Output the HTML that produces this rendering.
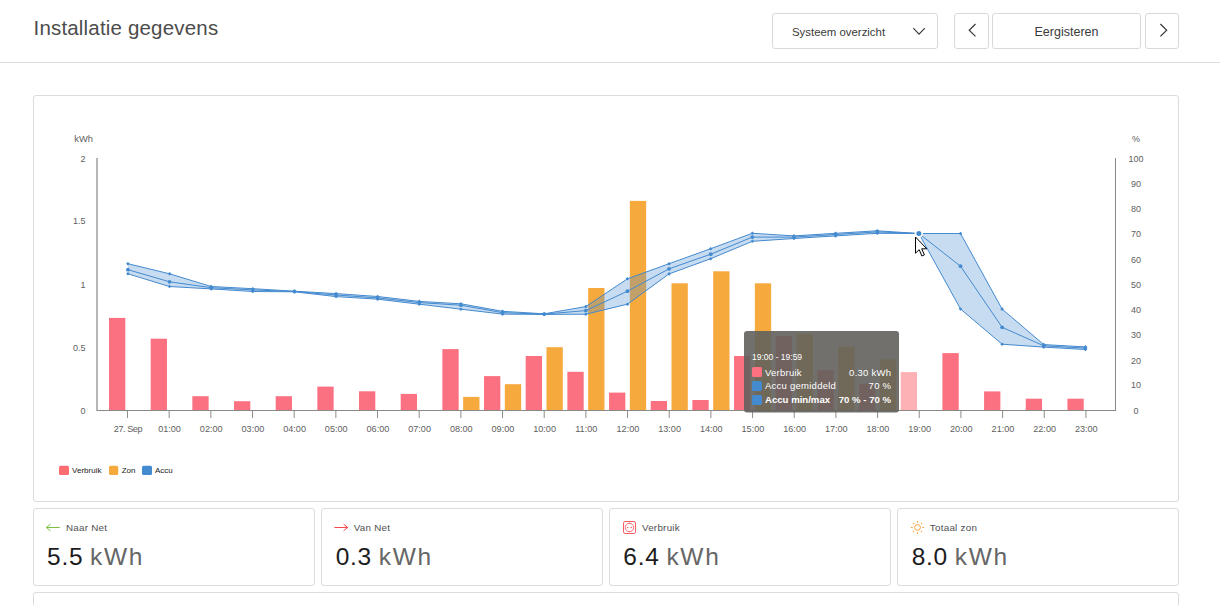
<!DOCTYPE html>
<html lang="nl">
<head>
<meta charset="utf-8">
<title>Installatie gegevens</title>
<style>
html,body{margin:0;padding:0;}
body{width:1220px;height:605px;overflow:hidden;background:#fff;font-family:"Liberation Sans",sans-serif;color:#333;position:relative;}
.hdr{position:absolute;left:0;top:0;width:1220px;height:62px;border-bottom:1px solid #dedcda;background:#fff;}
.title{position:absolute;left:33.5px;top:16px;font-size:20.5px;line-height:24px;color:#4c4c4c;letter-spacing:0.18px;white-space:nowrap;}
.btn{position:absolute;top:13px;height:36px;box-sizing:border-box;border:1px solid #d9d9d6;border-radius:3px;background:#fff;}
.btn span{position:absolute;left:0;right:0;top:0;line-height:35px;text-align:center;color:#333;white-space:nowrap;}
.card{position:absolute;box-sizing:border-box;border:1px solid #dedcda;border-radius:3px;background:#fff;}
.chart{position:absolute;left:0;top:0;}
</style>
</head>
<body>
<div class="hdr">
  <div class="title">Installatie gegevens</div>
  <div class="btn" style="left:772px;width:166px;"><span style="font-size:11.4px;text-align:left;left:19px;top:0.5px;color:#3a3a3a;">Systeem overzicht</span>
    <svg style="position:absolute;left:-1px;top:-1px" width="166" height="36" viewBox="772 13 166 36"><path d="M913.3,28.2 L919.05,34.1 L924.8,28.2" fill="none" stroke="#3a3a3a" stroke-width="1.2"/></svg></div>
  <div class="btn" style="left:954px;width:35px;"><svg style="position:absolute;left:-1px;top:-1px" width="35" height="36" viewBox="954 13 35 36"><path d="M975.5,24 L969.2,30.2 L975.5,36.4" fill="none" stroke="#3a3a3a" stroke-width="1.2"/></svg></div>
  <div class="btn" style="left:992px;width:149px;"><span style="font-size:12.5px;top:1px;color:#3a3a3a;">Eergisteren</span></div>
  <div class="btn" style="left:1145px;width:34px;"><svg style="position:absolute;left:-1px;top:-1px" width="34" height="36" viewBox="1145 13 34 36"><path d="M1160.4,24 L1166.7,30.2 L1160.4,36.4" fill="none" stroke="#3a3a3a" stroke-width="1.2"/></svg></div>
</div>
<div class="card" style="left:33px;top:95px;width:1146px;height:407px;"></div>
<div class="card" style="left:33px;top:508px;width:282px;height:78px;"></div>
<div class="card" style="left:321px;top:508px;width:282px;height:78px;"></div>
<div class="card" style="left:609px;top:508px;width:282px;height:78px;"></div>
<div class="card" style="left:897px;top:508px;width:282px;height:78px;"></div>
<div class="card" style="left:33px;top:592px;width:1146px;height:40px;"></div>
<svg class="chart" width="1220" height="605" viewBox="0 0 1220 605">
<g shape-rendering="auto">
<rect x="109.00" y="317.90" width="16.3" height="92.10" fill="#fb7181"/>
<rect x="150.67" y="338.70" width="16.3" height="71.30" fill="#fb7181"/>
<rect x="192.34" y="396.20" width="16.3" height="13.80" fill="#fb7181"/>
<rect x="234.01" y="401.20" width="16.3" height="8.80" fill="#fb7181"/>
<rect x="275.68" y="396.20" width="16.3" height="13.80" fill="#fb7181"/>
<rect x="317.35" y="386.60" width="16.3" height="23.40" fill="#fb7181"/>
<rect x="359.02" y="391.30" width="16.3" height="18.70" fill="#fb7181"/>
<rect x="400.69" y="393.90" width="16.3" height="16.10" fill="#fb7181"/>
<rect x="442.36" y="349.10" width="16.3" height="60.90" fill="#fb7181"/>
<rect x="484.03" y="376.10" width="16.3" height="33.90" fill="#fb7181"/>
<rect x="525.70" y="356.00" width="16.3" height="54.00" fill="#fb7181"/>
<rect x="567.37" y="371.80" width="16.3" height="38.20" fill="#fb7181"/>
<rect x="609.04" y="392.60" width="16.3" height="17.40" fill="#fb7181"/>
<rect x="650.71" y="401.00" width="16.3" height="9.00" fill="#fb7181"/>
<rect x="692.38" y="400.00" width="16.3" height="10.00" fill="#fb7181"/>
<rect x="734.05" y="356.00" width="16.3" height="54.00" fill="#fb7181"/>
<rect x="775.72" y="336.20" width="16.3" height="73.80" fill="#fb7181"/>
<rect x="817.39" y="370.10" width="16.3" height="39.90" fill="#fb7181"/>
<rect x="859.06" y="383.80" width="16.3" height="26.20" fill="#fb7181"/>
<rect x="900.73" y="372.10" width="16.3" height="37.90" fill="#fdb1b5"/>
<rect x="942.40" y="353.10" width="16.3" height="56.90" fill="#fb7181"/>
<rect x="984.07" y="391.40" width="16.3" height="18.60" fill="#fb7181"/>
<rect x="1025.74" y="398.70" width="16.3" height="11.30" fill="#fb7181"/>
<rect x="1067.41" y="398.70" width="16.3" height="11.30" fill="#fb7181"/>
<rect x="463.16" y="396.90" width="16.3" height="13.10" fill="#f6a93d"/>
<rect x="504.83" y="384.20" width="16.3" height="25.80" fill="#f6a93d"/>
<rect x="546.50" y="347.20" width="16.3" height="62.80" fill="#f6a93d"/>
<rect x="588.17" y="288.00" width="16.3" height="122.00" fill="#f6a93d"/>
<rect x="629.84" y="200.90" width="16.3" height="209.10" fill="#f6a93d"/>
<rect x="671.51" y="283.30" width="16.3" height="126.70" fill="#f6a93d"/>
<rect x="713.18" y="271.30" width="16.3" height="138.70" fill="#f6a93d"/>
<rect x="754.85" y="283.30" width="16.3" height="126.70" fill="#f6a93d"/>
<rect x="796.52" y="334.00" width="16.3" height="76.00" fill="#f6a93d"/>
<rect x="838.19" y="346.70" width="16.3" height="63.30" fill="#f6a93d"/>
<rect x="879.86" y="359.40" width="16.3" height="50.60" fill="#f6a93d"/>
</g>
<rect x="96" y="158.0" width="2" height="253.0" fill="#b8b6b4"/>
<rect x="97" y="410" width="1019" height="1" fill="#8b8986"/>
<rect x="1115" y="158.0" width="1" height="253.0" fill="#8b8986"/>
<rect x="127.00" y="411" width="1" height="7" fill="#8f8d8a"/>
<rect x="168.67" y="411" width="1" height="7" fill="#8f8d8a"/>
<rect x="210.34" y="411" width="1" height="7" fill="#8f8d8a"/>
<rect x="252.01" y="411" width="1" height="7" fill="#8f8d8a"/>
<rect x="293.68" y="411" width="1" height="7" fill="#8f8d8a"/>
<rect x="335.35" y="411" width="1" height="7" fill="#8f8d8a"/>
<rect x="377.02" y="411" width="1" height="7" fill="#8f8d8a"/>
<rect x="418.69" y="411" width="1" height="7" fill="#8f8d8a"/>
<rect x="460.36" y="411" width="1" height="7" fill="#8f8d8a"/>
<rect x="502.03" y="411" width="1" height="7" fill="#8f8d8a"/>
<rect x="543.70" y="411" width="1" height="7" fill="#8f8d8a"/>
<rect x="585.37" y="411" width="1" height="7" fill="#8f8d8a"/>
<rect x="627.04" y="411" width="1" height="7" fill="#8f8d8a"/>
<rect x="668.71" y="411" width="1" height="7" fill="#8f8d8a"/>
<rect x="710.38" y="411" width="1" height="7" fill="#8f8d8a"/>
<rect x="752.05" y="411" width="1" height="7" fill="#8f8d8a"/>
<rect x="793.72" y="411" width="1" height="7" fill="#8f8d8a"/>
<rect x="835.39" y="411" width="1" height="7" fill="#8f8d8a"/>
<rect x="877.06" y="411" width="1" height="7" fill="#8f8d8a"/>
<rect x="918.73" y="411" width="1" height="7" fill="#8f8d8a"/>
<rect x="960.40" y="411" width="1" height="7" fill="#8f8d8a"/>
<rect x="1002.07" y="411" width="1" height="7" fill="#8f8d8a"/>
<rect x="1043.74" y="411" width="1" height="7" fill="#8f8d8a"/>
<rect x="1085.41" y="411" width="1" height="7" fill="#8f8d8a"/>
<polygon points="127.90,263.70 169.53,273.80 211.16,286.50 252.79,288.70 294.42,291.20 336.05,293.60 377.68,296.50 419.31,301.40 460.94,303.80 502.57,311.30 544.20,313.80 585.83,306.60 627.46,278.80 669.09,263.70 710.72,248.70 752.35,233.30 793.98,235.90 835.61,233.30 877.24,230.80 918.87,233.50 960.50,233.50 1002.13,309.10 1043.76,344.60 1085.39,346.90 1085.39,349.50 1043.76,347.10 1002.13,344.20 960.50,309.00 918.87,233.50 877.24,233.30 835.61,235.90 793.98,238.50 752.35,241.30 710.72,258.70 669.09,273.90 627.46,304.20 585.83,314.20 544.20,314.40 502.57,314.10 460.94,309.20 419.31,304.20 377.68,299.20 336.05,296.60 294.42,291.80 252.79,291.50 211.16,288.90 169.53,286.50 127.90,273.80" fill="#448acf" fill-opacity="0.3"/>
<polyline points="127.90,263.70 169.53,273.80 211.16,286.50 252.79,288.70 294.42,291.20 336.05,293.60 377.68,296.50 419.31,301.40 460.94,303.80 502.57,311.30 544.20,313.80 585.83,306.60 627.46,278.80 669.09,263.70 710.72,248.70 752.35,233.30 793.98,235.90 835.61,233.30 877.24,230.80 918.87,233.50 960.50,233.50 1002.13,309.10 1043.76,344.60 1085.39,346.90" fill="none" stroke="#448acf" stroke-width="1" stroke-linejoin="round"/>
<polyline points="127.90,273.80 169.53,286.50 211.16,288.90 252.79,291.50 294.42,291.80 336.05,296.60 377.68,299.20 419.31,304.20 460.94,309.20 502.57,314.10 544.20,314.40 585.83,314.20 627.46,304.20 669.09,273.90 710.72,258.70 752.35,241.30 793.98,238.50 835.61,235.90 877.24,233.30 918.87,233.50 960.50,309.00 1002.13,344.20 1043.76,347.10 1085.39,349.50" fill="none" stroke="#448acf" stroke-width="1" stroke-linejoin="round"/>
<polyline points="127.90,269.70 169.53,281.80 211.16,287.70 252.79,289.90 294.42,291.50 336.05,295.00 377.68,297.90 419.31,302.60 460.94,305.20 502.57,312.70 544.20,314.10 585.83,310.60 627.46,291.20 669.09,268.80 710.72,254.20 752.35,237.10 793.98,237.10 835.61,234.50 877.24,231.90 918.87,233.50 960.50,266.20 1002.13,327.30 1043.76,345.80 1085.39,348.10" fill="none" stroke="#448acf" stroke-width="1" stroke-linejoin="round"/>
<path d="M127.90,261.90L129.70,263.70L127.90,265.50L126.10,263.70Z" fill="#448acf"/>
<path d="M127.90,272.00L129.70,273.80L127.90,275.60L126.10,273.80Z" fill="#448acf"/>
<circle cx="127.90" cy="269.70" r="1.9" fill="#448acf"/>
<path d="M169.53,272.00L171.33,273.80L169.53,275.60L167.73,273.80Z" fill="#448acf"/>
<path d="M169.53,284.70L171.33,286.50L169.53,288.30L167.73,286.50Z" fill="#448acf"/>
<circle cx="169.53" cy="281.80" r="1.9" fill="#448acf"/>
<path d="M211.16,284.70L212.96,286.50L211.16,288.30L209.36,286.50Z" fill="#448acf"/>
<path d="M211.16,287.10L212.96,288.90L211.16,290.70L209.36,288.90Z" fill="#448acf"/>
<circle cx="211.16" cy="287.70" r="1.9" fill="#448acf"/>
<path d="M252.79,286.90L254.59,288.70L252.79,290.50L250.99,288.70Z" fill="#448acf"/>
<path d="M252.79,289.70L254.59,291.50L252.79,293.30L250.99,291.50Z" fill="#448acf"/>
<circle cx="252.79" cy="289.90" r="1.9" fill="#448acf"/>
<path d="M294.42,289.40L296.22,291.20L294.42,293.00L292.62,291.20Z" fill="#448acf"/>
<path d="M294.42,290.00L296.22,291.80L294.42,293.60L292.62,291.80Z" fill="#448acf"/>
<circle cx="294.42" cy="291.50" r="1.9" fill="#448acf"/>
<path d="M336.05,291.80L337.85,293.60L336.05,295.40L334.25,293.60Z" fill="#448acf"/>
<path d="M336.05,294.80L337.85,296.60L336.05,298.40L334.25,296.60Z" fill="#448acf"/>
<circle cx="336.05" cy="295.00" r="1.9" fill="#448acf"/>
<path d="M377.68,294.70L379.48,296.50L377.68,298.30L375.88,296.50Z" fill="#448acf"/>
<path d="M377.68,297.40L379.48,299.20L377.68,301.00L375.88,299.20Z" fill="#448acf"/>
<circle cx="377.68" cy="297.90" r="1.9" fill="#448acf"/>
<path d="M419.31,299.60L421.11,301.40L419.31,303.20L417.51,301.40Z" fill="#448acf"/>
<path d="M419.31,302.40L421.11,304.20L419.31,306.00L417.51,304.20Z" fill="#448acf"/>
<circle cx="419.31" cy="302.60" r="1.9" fill="#448acf"/>
<path d="M460.94,302.00L462.74,303.80L460.94,305.60L459.14,303.80Z" fill="#448acf"/>
<path d="M460.94,307.40L462.74,309.20L460.94,311.00L459.14,309.20Z" fill="#448acf"/>
<circle cx="460.94" cy="305.20" r="1.9" fill="#448acf"/>
<path d="M502.57,309.50L504.37,311.30L502.57,313.10L500.77,311.30Z" fill="#448acf"/>
<path d="M502.57,312.30L504.37,314.10L502.57,315.90L500.77,314.10Z" fill="#448acf"/>
<circle cx="502.57" cy="312.70" r="1.9" fill="#448acf"/>
<path d="M544.20,312.00L546.00,313.80L544.20,315.60L542.40,313.80Z" fill="#448acf"/>
<path d="M544.20,312.60L546.00,314.40L544.20,316.20L542.40,314.40Z" fill="#448acf"/>
<circle cx="544.20" cy="314.10" r="1.9" fill="#448acf"/>
<path d="M585.83,304.80L587.63,306.60L585.83,308.40L584.03,306.60Z" fill="#448acf"/>
<path d="M585.83,312.40L587.63,314.20L585.83,316.00L584.03,314.20Z" fill="#448acf"/>
<circle cx="585.83" cy="310.60" r="1.9" fill="#448acf"/>
<path d="M627.46,277.00L629.26,278.80L627.46,280.60L625.66,278.80Z" fill="#448acf"/>
<path d="M627.46,302.40L629.26,304.20L627.46,306.00L625.66,304.20Z" fill="#448acf"/>
<circle cx="627.46" cy="291.20" r="1.9" fill="#448acf"/>
<path d="M669.09,261.90L670.89,263.70L669.09,265.50L667.29,263.70Z" fill="#448acf"/>
<path d="M669.09,272.10L670.89,273.90L669.09,275.70L667.29,273.90Z" fill="#448acf"/>
<circle cx="669.09" cy="268.80" r="1.9" fill="#448acf"/>
<path d="M710.72,246.90L712.52,248.70L710.72,250.50L708.92,248.70Z" fill="#448acf"/>
<path d="M710.72,256.90L712.52,258.70L710.72,260.50L708.92,258.70Z" fill="#448acf"/>
<circle cx="710.72" cy="254.20" r="1.9" fill="#448acf"/>
<path d="M752.35,231.50L754.15,233.30L752.35,235.10L750.55,233.30Z" fill="#448acf"/>
<path d="M752.35,239.50L754.15,241.30L752.35,243.10L750.55,241.30Z" fill="#448acf"/>
<circle cx="752.35" cy="237.10" r="1.9" fill="#448acf"/>
<path d="M793.98,234.10L795.78,235.90L793.98,237.70L792.18,235.90Z" fill="#448acf"/>
<path d="M793.98,236.70L795.78,238.50L793.98,240.30L792.18,238.50Z" fill="#448acf"/>
<circle cx="793.98" cy="237.10" r="1.9" fill="#448acf"/>
<path d="M835.61,231.50L837.41,233.30L835.61,235.10L833.81,233.30Z" fill="#448acf"/>
<path d="M835.61,234.10L837.41,235.90L835.61,237.70L833.81,235.90Z" fill="#448acf"/>
<circle cx="835.61" cy="234.50" r="1.9" fill="#448acf"/>
<path d="M877.24,229.00L879.04,230.80L877.24,232.60L875.44,230.80Z" fill="#448acf"/>
<path d="M877.24,231.50L879.04,233.30L877.24,235.10L875.44,233.30Z" fill="#448acf"/>
<circle cx="877.24" cy="231.90" r="1.9" fill="#448acf"/>
<path d="M918.87,231.70L920.67,233.50L918.87,235.30L917.07,233.50Z" fill="#448acf"/>
<path d="M918.87,231.70L920.67,233.50L918.87,235.30L917.07,233.50Z" fill="#448acf"/>
<circle cx="918.87" cy="233.50" r="4.2" fill="#fff" fill-opacity="0.9"/>
<circle cx="918.87" cy="233.50" r="2.5" fill="#448acf"/>
<path d="M960.50,231.70L962.30,233.50L960.50,235.30L958.70,233.50Z" fill="#448acf"/>
<path d="M960.50,307.20L962.30,309.00L960.50,310.80L958.70,309.00Z" fill="#448acf"/>
<circle cx="960.50" cy="266.20" r="1.9" fill="#448acf"/>
<path d="M1002.13,307.30L1003.93,309.10L1002.13,310.90L1000.33,309.10Z" fill="#448acf"/>
<path d="M1002.13,342.40L1003.93,344.20L1002.13,346.00L1000.33,344.20Z" fill="#448acf"/>
<circle cx="1002.13" cy="327.30" r="1.9" fill="#448acf"/>
<path d="M1043.76,342.80L1045.56,344.60L1043.76,346.40L1041.96,344.60Z" fill="#448acf"/>
<path d="M1043.76,345.30L1045.56,347.10L1043.76,348.90L1041.96,347.10Z" fill="#448acf"/>
<circle cx="1043.76" cy="345.80" r="1.9" fill="#448acf"/>
<path d="M1085.39,345.10L1087.19,346.90L1085.39,348.70L1083.59,346.90Z" fill="#448acf"/>
<path d="M1085.39,347.70L1087.19,349.50L1085.39,351.30L1083.59,349.50Z" fill="#448acf"/>
<circle cx="1085.39" cy="348.10" r="1.9" fill="#448acf"/>
<g font-family="Liberation Sans, sans-serif" font-size="9" fill="#606060">
<text x="74.3" y="142" font-size="9.4">kWh</text>
<text x="1136" y="142" text-anchor="middle">%</text>
<text x="85.5" y="162.00" text-anchor="end">2</text>
<text x="85.5" y="224.00" text-anchor="end">1.5</text>
<text x="85.5" y="288.00" text-anchor="end">1</text>
<text x="85.5" y="351.00" text-anchor="end">0.5</text>
<text x="85.5" y="414.00" text-anchor="end">0</text>
<text x="1136" y="414.00" text-anchor="middle">0</text>
<text x="1136" y="388.00" text-anchor="middle">10</text>
<text x="1136" y="364.00" text-anchor="middle">20</text>
<text x="1136" y="338.00" text-anchor="middle">30</text>
<text x="1136" y="313.00" text-anchor="middle">40</text>
<text x="1136" y="288.00" text-anchor="middle">50</text>
<text x="1136" y="263.00" text-anchor="middle">60</text>
<text x="1136" y="237.00" text-anchor="middle">70</text>
<text x="1136" y="212.00" text-anchor="middle">80</text>
<text x="1136" y="187.00" text-anchor="middle">90</text>
<text x="1136" y="162.00" text-anchor="middle">100</text>
<text x="127.90" y="432" font-size="9.1" letter-spacing="-0.45" text-anchor="middle">27. Sep</text>
<text x="169.57" y="432" font-size="9.1" text-anchor="middle">01:00</text>
<text x="211.24" y="432" font-size="9.1" text-anchor="middle">02:00</text>
<text x="252.91" y="432" font-size="9.1" text-anchor="middle">03:00</text>
<text x="294.58" y="432" font-size="9.1" text-anchor="middle">04:00</text>
<text x="336.25" y="432" font-size="9.1" text-anchor="middle">05:00</text>
<text x="377.92" y="432" font-size="9.1" text-anchor="middle">06:00</text>
<text x="419.59" y="432" font-size="9.1" text-anchor="middle">07:00</text>
<text x="461.26" y="432" font-size="9.1" text-anchor="middle">08:00</text>
<text x="502.93" y="432" font-size="9.1" text-anchor="middle">09:00</text>
<text x="544.60" y="432" font-size="9.1" text-anchor="middle">10:00</text>
<text x="586.27" y="432" font-size="9.1" text-anchor="middle">11:00</text>
<text x="627.94" y="432" font-size="9.1" text-anchor="middle">12:00</text>
<text x="669.61" y="432" font-size="9.1" text-anchor="middle">13:00</text>
<text x="711.28" y="432" font-size="9.1" text-anchor="middle">14:00</text>
<text x="752.95" y="432" font-size="9.1" text-anchor="middle">15:00</text>
<text x="794.62" y="432" font-size="9.1" text-anchor="middle">16:00</text>
<text x="836.29" y="432" font-size="9.1" text-anchor="middle">17:00</text>
<text x="877.96" y="432" font-size="9.1" text-anchor="middle">18:00</text>
<text x="919.63" y="432" font-size="9.1" text-anchor="middle">19:00</text>
<text x="961.30" y="432" font-size="9.1" text-anchor="middle">20:00</text>
<text x="1002.97" y="432" font-size="9.1" text-anchor="middle">21:00</text>
<text x="1044.64" y="432" font-size="9.1" text-anchor="middle">22:00</text>
<text x="1086.31" y="432" font-size="9.1" text-anchor="middle">23:00</text>
</g>
<g font-family="Liberation Sans, sans-serif" font-size="8" fill="#222">
<rect x="59" y="465.8" width="10" height="9.2" rx="1.5" fill="#fc6c70"/>
<text x="72.1" y="473">Verbruik</text>
<rect x="109" y="465.8" width="9.2" height="9.2" rx="1.5" fill="#f6a93d"/>
<text x="121.7" y="473">Zon</text>
<rect x="142" y="465.8" width="10" height="9.2" rx="1.5" fill="#448acf"/>
<text x="155" y="473">Accu</text>
</g>
<g font-family="Liberation Sans, sans-serif" fill="#fff">
<rect x="744" y="331" width="155" height="81.5" rx="3" fill="rgb(98,97,92)" fill-opacity="0.9"/>
<text x="752" y="360" font-size="8.5">19:00 - 19:59</text>
<rect x="752" y="367.1" width="10" height="10" rx="1.5" fill="#fb7181"/>
<text x="765" y="375.8" font-size="9.5" letter-spacing="0.25">Verbruik</text>
<text x="891.25" y="375.8" font-size="9.5" letter-spacing="0.25" text-anchor="end">0.30 kWh</text>
<rect x="752" y="381.1" width="10" height="10" rx="1.5" fill="#448acf"/>
<text x="765" y="389.0" font-size="9.5" letter-spacing="0.25">Accu gemiddeld</text>
<text x="891.25" y="389.0" font-size="9.5" letter-spacing="0.25" text-anchor="end">70 %</text>
<rect x="752" y="395.1" width="10" height="10" rx="1.5" fill="#448acf"/>
<text x="765" y="403.1" font-size="9.6" letter-spacing="0" font-weight="bold">Accu min/max</text>
<text x="891" y="403.1" font-size="9.6" letter-spacing="0" text-anchor="end" font-weight="bold">70 % - 70 %</text>
</g>
<g transform="translate(915.5,237)"><path d="M0,0 L0,16.2 L3.7,12.7 L6.4,19 L8.9,17.9 L6.2,11.8 L11.3,11.8 Z" fill="#fff" stroke="#000" stroke-width="1" stroke-linejoin="miter"/></g>
<path d="M59.8,527.5 H46.4 M50.5,524.2 L46.4,527.5 L50.5,530.8" fill="none" stroke="#7ac143" stroke-width="1"/>
<path d="M334.4,527.5 H347.7 M343.6,524.2 L347.7,527.5 L343.6,530.8" fill="none" stroke="#f9484a" stroke-width="1"/>
<g fill="none" stroke="#f95d66" stroke-width="1"><rect x="623.5" y="521.5" width="12" height="12" rx="1.6"/><circle cx="629.45" cy="527.45" r="4.2" stroke-width="0.9"/><path d="M629.45,522.6v1M629.45,531.3v1" stroke-width="0.8"/></g>
<circle cx="627.7" cy="527.45" r="0.75" fill="#f95d66"/><circle cx="631.3" cy="527.45" r="0.75" fill="#f95d66"/>
<g fill="none" stroke="#f9a03c" stroke-width="1"><circle cx="917.5" cy="527.45" r="2.9"/><path d="M917.5,521v1.6M917.5,532.3v1.6M910.8,527.45h1.8M922.4,527.45h1.8" stroke-width="1.1"/></g>
<circle cx="913.5" cy="523.45" r="0.7" fill="#f9a03c"/>
<circle cx="913.5" cy="531.45" r="0.7" fill="#f9a03c"/>
<circle cx="921.5" cy="523.45" r="0.7" fill="#f9a03c"/>
<circle cx="921.5" cy="531.45" r="0.7" fill="#f9a03c"/>
<g font-family="Liberation Sans, sans-serif">
<text x="65.9" y="530.8" font-size="9.8" letter-spacing="0.27" fill="#505050">Naar Net</text>
<text x="47.0" y="564.6" font-size="24.5" letter-spacing="0.75" fill="#1c1c1c">5.5 <tspan fill="#666" letter-spacing="1.7" dx="-0.8">kWh</tspan></text>
<text x="353.7" y="530.8" font-size="9.8" letter-spacing="0.27" fill="#505050">Van Net</text>
<text x="335.7" y="564.6" font-size="24.5" letter-spacing="0.75" fill="#1c1c1c">0.3 <tspan fill="#666" letter-spacing="1.7" dx="-0.8">kWh</tspan></text>
<text x="641.9" y="530.8" font-size="9.8" letter-spacing="0.27" fill="#505050">Verbruik</text>
<text x="623.3" y="564.6" font-size="24.5" letter-spacing="0.75" fill="#1c1c1c">6.4 <tspan fill="#666" letter-spacing="1.7" dx="-0.8">kWh</tspan></text>
<text x="929.8" y="530.8" font-size="9.8" letter-spacing="0.27" fill="#505050">Totaal zon</text>
<text x="911.7" y="564.6" font-size="24.5" letter-spacing="0.75" fill="#1c1c1c">8.0 <tspan fill="#666" letter-spacing="1.7" dx="-0.8">kWh</tspan></text>
</g>
</svg>
</body>
</html>
